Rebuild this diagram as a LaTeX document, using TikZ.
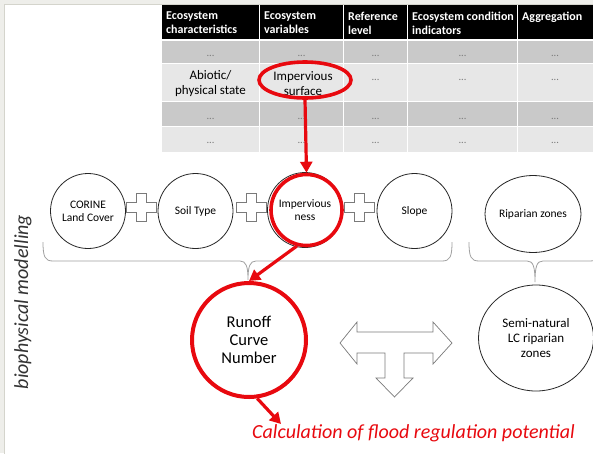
\documentclass[tikz,border=0pt]{standalone}
\usepackage{fontspec}
\setmainfont{Carlito}
\usetikzlibrary{shapes.geometric,arrows.meta,calc}
\definecolor{rowdark}{HTML}{C9C9C9}
\definecolor{rowlight}{HTML}{E7E7E7}
\definecolor{vred}{HTML}{E8090F}
\definecolor{bgframe}{HTML}{EEEEEA}
\definecolor{framel}{HTML}{D4D4CC}
\definecolor{shapegray}{HTML}{7A7A7A}
\definecolor{bracegray}{HTML}{A0A0A0}
\definecolor{dotgray}{HTML}{7A7A7A}
\definecolor{labgray}{HTML}{333333}
\newcommand\myplusshape[2]{%
  \draw[plusline,shift={(#1,#2)}] (-15,-5) -- (-5,-5) -- (-5,-14) -- (5,-14) -- (5,-5) -- (15,-5)
    -- (15,5) -- (5,5) -- (5,14) -- (-5,14) -- (-5,5) -- (-15,5) -- cycle;}
\tikzset{
  plusline/.style={draw=shapegray, fill=white, line width=0.7pt},
  bcircle/.style={circle, draw=black!85, line width=0.8pt, minimum size=75pt, inner sep=0pt,
    align=center, font=\fontsize{11.5}{13}\selectfont},
  headtxt/.style={anchor=north west, inner sep=0pt, align=left, text=white,
    font=\fontsize{12}{13.5}\selectfont\bfseries},
  celltxt/.style={inner sep=0pt, align=center, font=\fontsize{13}{15}\selectfont},
  dots/.style={anchor=base, inner sep=0pt, text=dotgray, font=\fontsize{10.5}{11}\selectfont},
  redarrow/.style={draw=vred, line width=3.2pt, -{Triangle[length=11pt,width=12pt]}},
  bracel/.style={draw=bracegray, line width=0.8pt},
}
\begin{document}
\begin{tikzpicture}[x=1pt,y=-1pt]
\useasboundingbox (0,0) rectangle (593,453);
\clip (0,0) rectangle (593,453);
% slide frame
\fill[bgframe] (0,0) rectangle (593,453);
\filldraw[fill=white, draw=framel, line width=0.8pt] (4.5,4) rectangle (600,460);
% table
\foreach \xa/\xb in {162/259,260/343,344/407,408/517,518/593} {
  \fill[black] (\xa,5) rectangle (\xb,39);
  \fill[rowdark] (\xa,41) rectangle (\xb,63);
  \fill[rowlight] (\xa,64) rectangle (\xb,100.5);
  \fill[rowdark] (\xa,101.5) rectangle (\xb,126);
  \fill[rowlight] (\xa,127) rectangle (\xb,152);
}
\node[headtxt] (h1) at (166,12) {Ecosystem\\characteristics};
\node[headtxt] (h2) at (264,12) {Ecosystem\\variables};
\node[headtxt] (h3) at (348,12) {Reference\\level};
\node[headtxt] (h4) at (412,12) {Ecosystem condition\\indicators};
\node[headtxt] (h5) at (522,12) {Aggregation};
% row dots
\foreach \cx [count=\i] in {210.5,301.5,375.5,462.5,555} {
  \node[dots] (ra\i) at (\cx,56) {...};
  \node[dots] (rc\i) at (\cx,119) {...};
  \node[dots] (rd\i) at (\cx,143) {...};
}
\foreach \cx [count=\i] in {375.5,462.5,555} {
  \node[dots] (rb\i) at (\cx,80) {...};
}
\node[celltxt] (abio) at (210.5,83.5) {Abiotic/\\physical state};
\node[celltxt] (impsurf) at (303,83.5) {Impervious\\surface};
\node[ellipse, draw=vred, line width=3.6pt, minimum width=92pt, minimum height=36pt, inner sep=0pt] (impell) at (305,80) {};
% circles row
\node[bcircle] (corine) at (88,211) {CORINE\\Land Cover};
\node[bcircle] (soil) at (195.5,211) {Soil Type};
\node[bcircle] (impc) at (305,210) {};
\node[circle, draw=vred, line width=3.6pt, minimum size=71pt, inner sep=0pt] (impred) at (306.5,210) {};
\node[inner sep=0pt, align=center, font=\fontsize{11.5}{13}\selectfont] (imptxt) at (305,210) {Impervious\\ness};
\node[bcircle] (slope) at (414.5,211) {Slope};
\node[bcircle, ellipse, minimum width=91pt, minimum height=77pt] (ripar) at (533,214) {Riparian zones};
% plus signs
\myplusshape{141}{207}
\myplusshape{251}{207}
\myplusshape{359.5}{207}
% braces
\draw[bracel] (43,242) .. controls (43,257) and (45,261) .. (53,261) -- (240,261)
  .. controls (246,261) and (248,266) .. (248,280)
  .. controls (248,266) and (250,261) .. (256,261) -- (442,261)
  .. controls (450,261) and (452,257) .. (452,242);
\draw[bracel] (469,242) .. controls (469,257) and (471,261) .. (479,261) -- (527,261)
  .. controls (533,261) and (535,266) .. (535,282)
  .. controls (535,266) and (537,261) .. (543,261) -- (590,261)
  .. controls (598,261) and (600,257) .. (600,242);
% lower row
\node[circle, draw=vred, line width=4pt, minimum size=114pt, inner sep=0pt, align=center,
  font=\fontsize{16.5}{18}\selectfont] (run) at (249,340) {Runoff\\Curve\\Number};
\node[ellipse, draw=black!85, line width=0.8pt, minimum width=115pt, minimum height=106pt, inner sep=0pt,
  align=center, font=\fontsize{13}{15}\selectfont] (semi) at (536,338) {Semi-natural\\LC riparian\\zones};
% T arrow
\draw[plusline] (340,343) -- (357,322) -- (357,332) -- (433,332) -- (433,322) -- (452,343)
  -- (433,364) -- (433,353) -- (404,353) -- (404,378) -- (413,378) -- (394.5,397)
  -- (376,378) -- (385,378) -- (385,353) -- (357,353) -- (357,364) -- cycle;
% red arrows
\coordinate (calctip) at (281,424);
\draw[redarrow] (impell.south) -- (impred.north);
\draw[redarrow] (impred.255) -- (run.north);
\draw[redarrow] (run.278) -- (calctip);
\node[anchor=base west, inner sep=0pt, text=vred, font=\fontsize{20}{22}\selectfont\itshape] (calc) at (252,438) {Calculation of flood regulation potential};
\node[rotate=90, inner sep=0pt, text=labgray, font=\fontsize{20}{22}\selectfont\itshape] (bio) at (23,302) {biophysical modelling};
\end{tikzpicture}
\end{document}
